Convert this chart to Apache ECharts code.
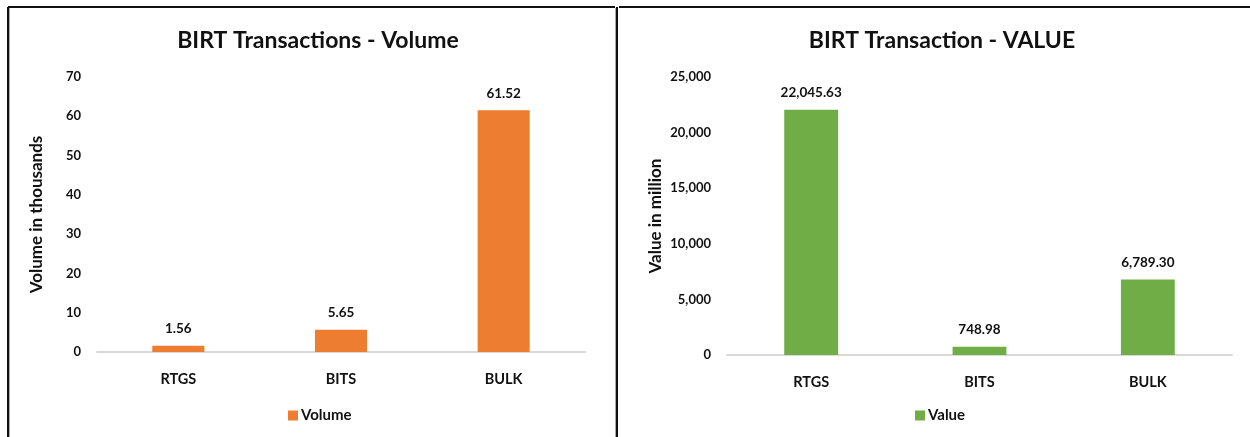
<!DOCTYPE html>
<html>
<head>
<meta charset="utf-8">
<script src="https://cdn.jsdelivr.net/npm/echarts@6/dist/echarts.min.js"></script>
<style>
html,body{margin:0;padding:0;background:#fff;}
#c{width:1250px;height:437px;}
</style>
</head>
<body>
<div id="c"></div>
<script>
const categories = ['RTGS', 'BITS', 'BULK'];
const volumeValues = [1.56, 5.65, 61.52];
const valueValues = [22045.63, 748.98, 6789.30];
const volumeTicks = { min: 0, max: 70, interval: 10 };
const valueTicks = { min: 0, max: 25000, interval: 5000 };

const FONT = 'Lato, "Open Sans", sans-serif';
const fmt2 = v => v.toLocaleString('en-US', { minimumFractionDigits: 2, maximumFractionDigits: 2 });
const fmtInt = v => v.toLocaleString('en-US');

const chart = echarts.init(document.getElementById('c'));

function catAxis(gridIndex) {
  return {
    type: 'category', gridIndex, data: categories,
    axisTick: { show: false },
    axisLine: { lineStyle: { color: '#d9d9d9', width: 2 } },
    axisLabel: { color: '#111', fontFamily: FONT, fontWeight: 'bold', fontSize: 14.5, margin: 20 }
  };
}
function valAxis(gridIndex, ticks, name, gap, formatter) {
  return {
    type: 'value', gridIndex, min: ticks.min, max: ticks.max, interval: ticks.interval,
    name, nameLocation: 'middle', nameGap: gap, nameRotate: 90,
    nameTextStyle: { color: '#111', fontFamily: FONT, fontWeight: 'bold', fontSize: 17 },
    axisLine: { show: false }, axisTick: { show: false }, splitLine: { show: false },
    axisLabel: { color: '#111', fontFamily: FONT, fontWeight: 'bold', fontSize: 13, margin: 16, formatter }
  };
}
const lineStyle = { stroke: '#111', lineWidth: 2 };

chart.setOption({
  animation: false,
  title: [
    { text: 'BIRT Transactions - Volume', left: 313, top: 24, textAlign: 'center',
      textStyle: { fontFamily: FONT, fontWeight: 'bold', fontSize: 23, color: '#111' } },
    { text: 'BIRT Transaction - VALUE', left: 937, top: 24, textAlign: 'center',
      textStyle: { fontFamily: FONT, fontWeight: 'bold', fontSize: 23, color: '#111' } }
  ],
  legend: [
    { data: ['Volume'], left: 283, top: 403, itemWidth: 10, itemHeight: 10, itemGap: 5,
      icon: 'rect', textStyle: { fontFamily: FONT, fontWeight: 'bold', fontSize: 15, color: '#111', padding: [0,0,0,-2] } },
    { data: ['Value'], left: 910, top: 403, itemWidth: 10, itemHeight: 10, itemGap: 5,
      icon: 'rect', textStyle: { fontFamily: FONT, fontWeight: 'bold', fontSize: 15, color: '#111', padding: [0,0,0,-2] } }
  ],
  grid: [
    { left: 97, right: 665, top: 77, bottom: 85 },
    { left: 727, right: 18, top: 77, bottom: 82 }
  ],
  xAxis: [catAxis(0), catAxis(1)],
  yAxis: [
    valAxis(0, volumeTicks, 'Volume in thousands', 52, v => fmtInt(v)),
    valAxis(1, valueTicks, 'Value in million', 63, v => fmtInt(v))
  ],
  series: [
    { name: 'Volume', type: 'bar', xAxisIndex: 0, yAxisIndex: 0, data: volumeValues,
      barWidth: '32%', itemStyle: { color: '#ED7D31' },
      label: { show: true, position: 'top', distance: 10, color: '#111', fontFamily: FONT, fontWeight: 'bold', fontSize: 13.5,
        formatter: p => fmt2(p.value) } },
    { name: 'Value', type: 'bar', xAxisIndex: 1, yAxisIndex: 1, data: valueValues,
      barWidth: '32%', itemStyle: { color: '#70AD47' },
      label: { show: true, position: 'top', distance: 10, color: '#111', fontFamily: FONT, fontWeight: 'bold', fontSize: 13.5,
        formatter: p => fmt2(p.value) } }
  ],
  graphic: [
    { type: 'line', shape: { x1: 8, y1: 7, x2: 615, y2: 7 }, style: lineStyle, silent: true },
    { type: 'line', shape: { x1: 619, y1: 7, x2: 1250, y2: 7 }, style: lineStyle, silent: true },
    { type: 'line', shape: { x1: 8, y1: 7, x2: 8, y2: 437 }, style: lineStyle, silent: true },
    { type: 'line', shape: { x1: 617, y1: 7, x2: 617, y2: 437 }, style: lineStyle, silent: true },
    { type: 'line', shape: { x1: 9.5, y1: 8, x2: 9.5, y2: 437 }, style: { stroke: '#aaa', lineWidth: 1 }, silent: true },
    { type: 'line', shape: { x1: 615.5, y1: 8, x2: 615.5, y2: 437 }, style: { stroke: '#aaa', lineWidth: 1 }, silent: true }
  ]
});
</script>
</body>
</html>
